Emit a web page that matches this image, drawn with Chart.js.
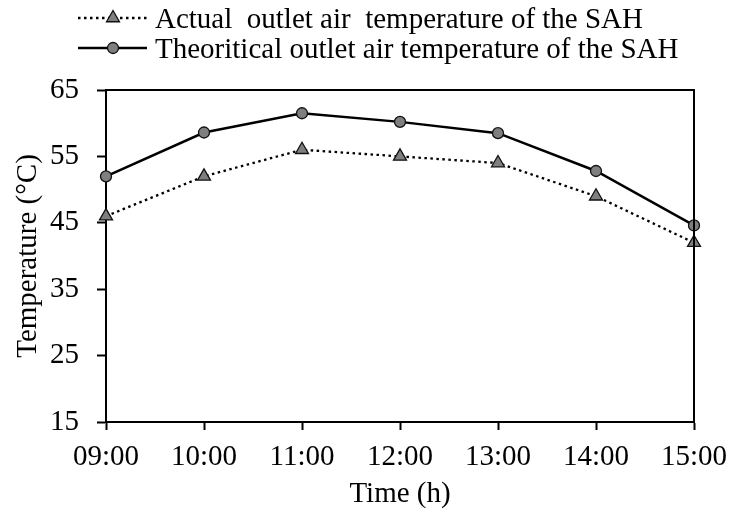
<!DOCTYPE html>
<html>
<head>
<meta charset="utf-8">
<script src="https://cdn.jsdelivr.net/npm/chart.js@4"></script>
<style>
html,body{margin:0;padding:0;background:#fff;}
#wrap{width:729px;height:510px;position:relative;}
</style>
</head>
<body>
<div id="wrap"><canvas id="c" width="729" height="510"></canvas></div>
<script>
const times = ['09:00','10:00','11:00','12:00','13:00','14:00','15:00'];
const actualTemp = [46, 52, 56, 55, 54, 49, 42];
const theoreticalTemp = [52, 58.6, 61.5, 60.2, 58.5, 52.8, 44.6];
const yTicks = [15, 25, 35, 45, 55, 65];
const seriesNames = ['Actual  outlet air  temperature of the SAH', 'Theoritical outlet air temperature of the SAH'];

const FONT = "'Times New Roman', 'Liberation Serif', serif";
const FS = 29;
const GRAY = '#7f7f7f';
const DOTS = [2.5, 3.5];

const frame = {
  id: 'frame',
  afterDatasetsDraw(chart) {
    const {ctx, chartArea: a} = chart;
    ctx.save();
    ctx.strokeStyle = '#000';
    ctx.lineWidth = 2;
    ctx.beginPath();
    ctx.moveTo(a.left, a.top);
    ctx.lineTo(a.right, a.top);
    ctx.lineTo(a.right, a.bottom);
    ctx.stroke();
    ctx.restore();
  },
  afterDraw(chart) {
    const ctx = chart.ctx;
    ctx.save();
    const rows = [
      {y: 18, dash: DOTS, lw: 2.3, style: 'triangle', r: 7.5},
      {y: 48, dash: [], lw: 2.5, style: 'circle', r: 5.5}
    ];
    rows.forEach((row, i) => {
      ctx.strokeStyle = '#000';
      ctx.lineWidth = row.lw;
      ctx.setLineDash(row.dash);
      ctx.beginPath();
      ctx.moveTo(78, row.y);
      ctx.lineTo(147, row.y);
      ctx.stroke();
      ctx.setLineDash([]);
      ctx.fillStyle = GRAY;
      ctx.lineWidth = 1.3;
      ctx.strokeStyle = '#111';
      Chart.helpers.drawPoint(ctx, {pointStyle: row.style, radius: row.r, borderWidth: 1.3}, 113, row.y);
      ctx.fillStyle = '#000';
      ctx.font = FS + 'px ' + FONT;
      ctx.textBaseline = 'middle';
      ctx.textAlign = 'left';
      ctx.fillText(seriesNames[i], 155, row.y + 2.5);
    });
    ctx.restore();
  }
};

new Chart(document.getElementById('c'), {
  type: 'line',
  data: {
    labels: times,
    datasets: [
      {
        label: seriesNames[0],
        data: actualTemp,
        borderColor: '#000',
        borderWidth: 2.3,
        borderDash: DOTS,
        pointStyle: 'triangle',
        pointRadius: 7.5,
        pointBackgroundColor: GRAY,
        pointBorderColor: '#111',
        pointBorderWidth: 1.3,
        tension: 0,
        clip: false
      },
      {
        label: seriesNames[1],
        data: theoreticalTemp,
        borderColor: '#000',
        borderWidth: 2.5,
        pointStyle: 'circle',
        pointRadius: 5.5,
        pointBackgroundColor: GRAY,
        pointBorderColor: '#111',
        pointBorderWidth: 1.3,
        tension: 0,
        clip: false
      }
    ]
  },
  options: {
    responsive: false,
    animation: false,
    layout: {padding: {left: 0, right: 35, top: 90, bottom: 0}},
    plugins: {legend: {display: false}, tooltip: {enabled: false}},
    scales: {
      x: {
        offset: false,
        grid: {drawOnChartArea: false, drawTicks: true, tickLength: 8, tickColor: '#000', tickWidth: 2},
        border: {display: true, color: '#000', width: 2},
        ticks: {color: '#000', font: {family: FONT, size: FS}, padding: 10, maxRotation: 0, autoSkip: false},
        title: {display: true, text: 'Time (h)', color: '#000', font: {family: FONT, size: FS, lineHeight: 1.05}, padding: 0},
        afterFit(s) { s.height = 88; s.paddingLeft = 0; s.paddingRight = 0; }
      },
      y: {
        min: 15, max: 65,
        afterBuildTicks(s) { s.ticks = yTicks.map(v => ({value: v})); },
        grid: {drawOnChartArea: false, drawTicks: true, tickLength: 9, tickColor: '#000', tickWidth: 2},
        border: {display: true, color: '#000', width: 2},
        ticks: {color: '#000', font: {family: FONT, size: FS}, padding: 18},
        title: {display: true, text: 'Temperature (°C)', color: '#000', font: {family: FONT, size: FS}, padding: {top: 11, bottom: 0}},
        afterFit(s) { s.width = 106; s.paddingTop = 0; s.paddingBottom = 0; }
      }
    }
  },
  plugins: [frame]
});
</script>
</body>
</html>
